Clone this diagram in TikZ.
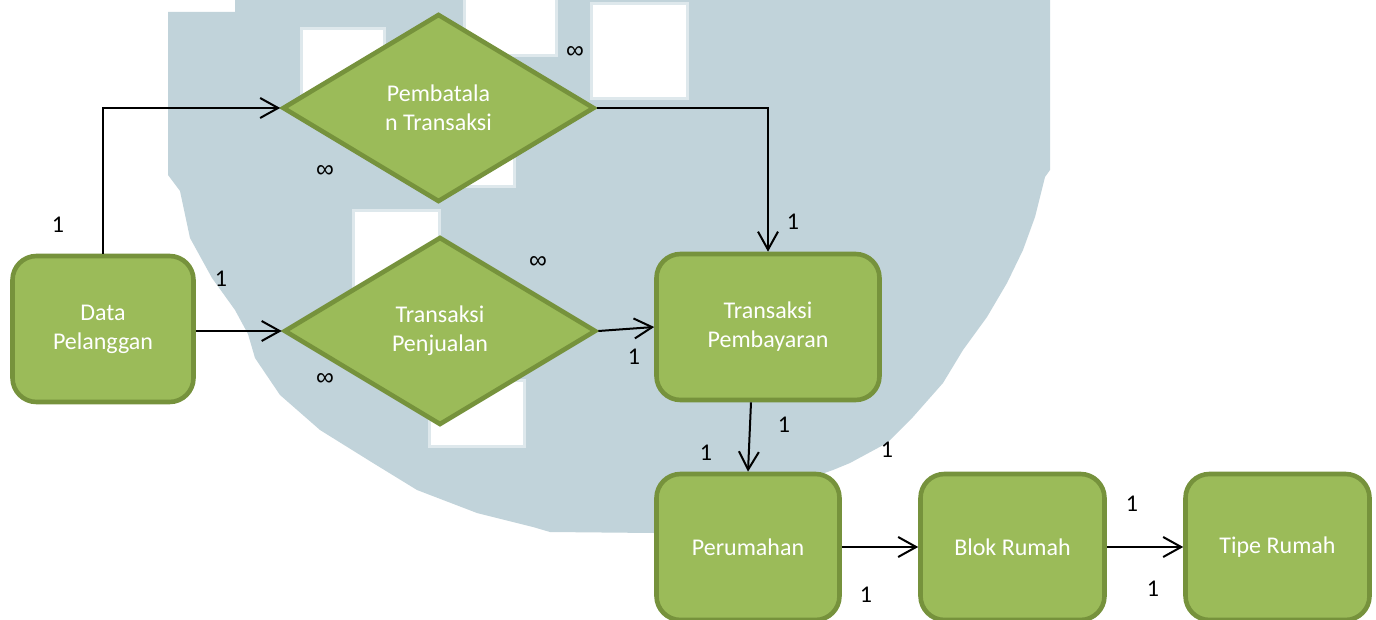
\documentclass[tikz,border=0pt]{standalone}
\usepackage{fontspec}
\setmainfont{Carlito}
\newfontfamily\inffont{Liberation Sans}
\usetikzlibrary{shapes.geometric,arrows.meta}
\definecolor{olvfill}{RGB}{155,187,89}
\definecolor{olvline}{RGB}{118,146,60}
\definecolor{wmark}{RGB}{193,211,218}
\definecolor{wedge}{RGB}{222,232,236}
\begin{document}
\begin{tikzpicture}[x=0.5pt,y=-0.5pt,
  ent/.style={draw=olvline, fill=olvfill, line width=2.3pt, rounded corners=12pt,
    text=white, align=center, font=\fontsize{12}{14.5}\selectfont, inner sep=0pt,
    minimum height=73pt},
  rel/.style={diamond, draw=olvline, fill=olvfill, line width=2.3pt,
    text=white, align=center, font=\fontsize{12}{14.5}\selectfont, inner sep=0pt,
    minimum width=156pt, minimum height=94pt},
  conn/.style={line width=1pt, -{Straight Barb[length=9pt,width=10pt,line width=1pt]}},
  card/.style={font=\fontsize{12}{14}\selectfont, inner sep=0pt},
  inf/.style={font=\inffont\fontsize{12.5}{14}\selectfont, inner sep=0pt},
  win/.style={fill=white, draw=wedge, line width=1.5pt}]
\clip (0,0) rectangle (1376,620);
\fill[white] (0,0) rectangle (1376,620);
% watermark
\fill[wmark] (235,0) -- (1050,0) -- (1050,170) -- (1045,177) -- (1035,217) -- (1023,250)
  -- (1007,283) -- (987,317) -- (963,350) -- (943,383) -- (913,417) -- (887,443)
  -- (850,463) -- (833,470) -- (654,533) -- (550,532) -- (533,527) -- (477,513)
  -- (417,490) -- (373,463) -- (320,430) -- (280,395) -- (255,358) -- (248,334)
  -- (235,310) -- (212,278) -- (190,238) -- (180,191) -- (168,175) -- (168,12)
  -- (235,12) -- cycle;
\filldraw[win] (301,29) rectangle (384,95);
\filldraw[win] (464,-5) rectangle (556,56);
\filldraw[win] (591,4) rectangle (687,99);
\filldraw[win] (447,120) rectangle (514,187);
\filldraw[win] (353,211) rectangle (439,330);
\filldraw[win] (429,380) rectangle (524,446);
% entities
\node[ent, minimum width=90.5pt] (dp) at (103,329) {Data\\Pelanggan};
\node[ent, minimum width=111.5pt] (tp) at (768,327) {Transaksi\\Pembayaran};
\node[ent, minimum width=91.5pt] (pr) at (748,547) {Perumahan};
\node[ent, minimum width=92pt] (br) at (1012.5,547) {Blok Rumah};
\node[ent, minimum width=92pt] (tr) at (1277.5,547) {Tipe Rumah};
% relations
\node[rel] (pb) at (438.5,108) {Pembatala\\n Transaksi};
\node[rel] (pj) at (440,331) {Transaksi\\Penjualan};
% connectors
\draw[conn] (dp.north) |- (pb.west);
\draw[conn] (dp.east |- pj.west) -- (pj.west);
\draw[conn] (pb.east) -| (tp.north);
\draw[conn] (pj.east) -- (tp.west);
\draw[conn] ([xshift=-8.5pt]tp.south) -- (pr.north);
\draw[conn] (pr.east) -- (br.west);
\draw[conn] (br.east) -- (tr.west);
% cardinalities
\node[card] (c1) at (58,225) {1};
\node[card] (c2) at (221,279) {1};
\node[inf] (c3) at (575,53) {∞};
\node[inf] (c4) at (325,172) {∞};
\node[inf] (c5) at (538,263) {∞};
\node[inf] (c6) at (325,379) {∞};
\node[card] (c7) at (793,222) {1};
\node[card] (c8) at (634,357) {1};
\node[card] (c9) at (784,425) {1};
\node[card] (c10) at (706,453) {1};
\node[card] (c11) at (887,450) {1};
\node[card] (c12) at (866,595) {1};
\node[card] (c13) at (1132,504) {1};
\node[card] (c14) at (1153,589) {1};
\end{tikzpicture}
\end{document}
